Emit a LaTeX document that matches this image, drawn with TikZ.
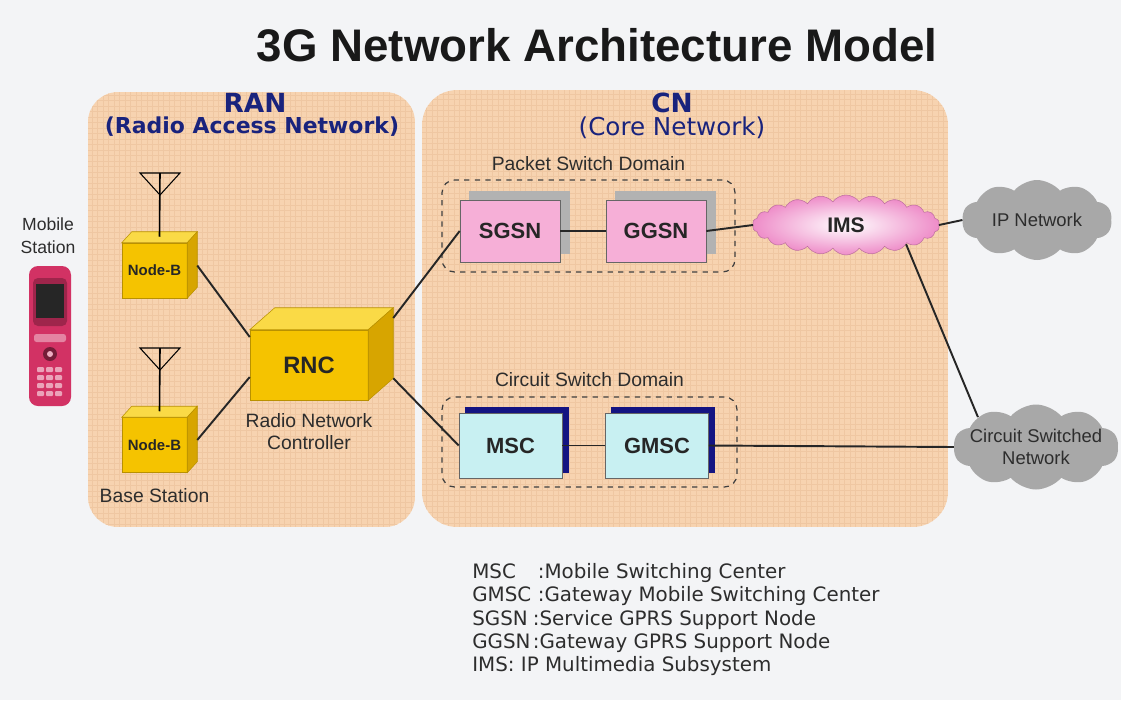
\documentclass[tikz,border=0pt]{standalone}
\usepackage{fontspec}
\setmainfont{Liberation Sans}
\newfontfamily\dejavu{DejaVu Sans}
\usetikzlibrary{positioning, shapes.symbols, shadows}

\definecolor{bgcol}{RGB}{243,244,246}
\definecolor{peach}{RGB}{247,211,176}
\definecolor{peachgrid}{RGB}{239,199,162}
\definecolor{navytxt}{RGB}{25,35,125}
\definecolor{ybfront}{RGB}{245,195,0}
\definecolor{ybtop}{RGB}{250,218,70}
\definecolor{ybside}{RGB}{215,165,0}
\definecolor{ybedge}{RGB}{185,145,0}
\definecolor{pinkbox}{RGB}{246,175,215}
\definecolor{cyanbox}{RGB}{200,240,242}
\definecolor{navyshadow}{RGB}{20,20,130}
\definecolor{cloudgray}{RGB}{168,168,168}
\definecolor{imspink}{RGB}{238,140,200}
\definecolor{phonered}{RGB}{210,50,100}
\definecolor{txtgray}{RGB}{45,45,45}

% top and side face of a box node: node name, depth x, depth y (pixels)
\newcommand{\boxfaces}[3]{%
  \fill[ybtop, draw=ybedge, line width=0.3pt] (#1.north west) -- ++(#2,-#3)
    -- ([shift={(#2,-#3)}]#1.north east) -- (#1.north east) -- cycle;
  \fill[ybside, draw=ybedge, line width=0.3pt] (#1.north east) -- ++(#2,-#3)
    -- ([shift={(#2,-#3)}]#1.south east) -- (#1.south east) -- cycle;
}
% antenna on top of a Node-B
\newcommand{\antenna}[2]{%
  \draw[line width=0.6pt] (#1) ++(-20,0) -- ++(40,0) -- ++(-20,22) -- cycle;
  \draw[line width=0.9pt] (#1) -- ([shift={(5,-6)}]#2.north);
}

\begin{document}
\begin{tikzpicture}[
    x=0.02cm, y=-0.02cm,
    node distance=0.2cm,
    panel/.style={rectangle, rounded corners=0.6cm, fill=peach,
      path picture={\draw[peachgrid, line width=0.15pt]
        (path picture bounding box.south west) grid[step=0.11cm]
        (path picture bounding box.north east);}},
    head/.style={text=navytxt, inner sep=1pt},
    nodeb/.style={rectangle, fill=ybfront, draw=ybedge, line width=0.3pt,
      minimum width=1.3cm, minimum height=1.1cm, inner sep=0pt,
      font=\bfseries\fontsize{8.5}{10}\selectfont, text=black!85},
    rncbox/.style={nodeb, minimum width=2.36cm, minimum height=1.4cm,
      font=\bfseries\fontsize{13.5}{16}\selectfont},
    psbox/.style={rectangle, fill=pinkbox, draw=black!60, line width=0.4pt,
      minimum width=2cm, minimum height=1.24cm,
      font=\bfseries\fontsize{12.5}{15}\selectfont, text=black!85,
      copy shadow={shadow xshift=0.18cm, shadow yshift=0.18cm, fill=gray!60, draw=gray!60}},
    csbox/.style={rectangle, fill=cyanbox, draw=black!60, line width=0.4pt,
      minimum width=2.06cm, minimum height=1.3cm,
      font=\bfseries\fontsize{12.5}{15}\selectfont, text=black!85,
      copy shadow={shadow xshift=0.12cm, shadow yshift=0.12cm, fill=navyshadow, draw=navyshadow}},
    domainbox/.style={rectangle, draw=black!75, dashed, line width=0.7pt, rounded corners=0.25cm},
    cloudnode/.style={cloud, cloud puffs=10, cloud puff arc=100, aspect=2.5, inner sep=0pt},
    link/.style={draw=black!85, line width=1.1pt},
    lbl/.style={text=txtgray, font=\fontsize{11}{12.5}\selectfont, align=center}
]
    \useasboundingbox (0,0) rectangle (1121,700);
    \fill[bgcol] (0,0) rectangle (1121,700);

    \node[font=\bfseries\fontsize{26}{30}\selectfont, text=black!90] (title) at (597,45)
        {3G Network Architecture Model};

    % the two panels
    \node[panel, minimum width=6.54cm, minimum height=8.7cm] (ran) at (251.5,309.5) {};
    \node[panel, rounded corners=0.7cm, minimum width=10.52cm, minimum height=8.74cm] (cn) at (685,308.5) {};

    \node[head, font=\dejavu\bfseries\fontsize{15}{18}\selectfont] (rantitle) at (255,103) {RAN};
    \node[head, font=\dejavu\bfseries\fontsize{12.5}{15}\selectfont] (ransub) at (252,127) {(Radio Access Network)};
    \node[head, font=\dejavu\bfseries\fontsize{15}{18}\selectfont] (cntitle) at (672,103) {CN};
    \node[head, font=\dejavu\fontsize{14}{17}\selectfont] (cnsub) at (672,128) {(Core Network)};

    % mobile station
    \node[lbl, font=\fontsize{10}{13}\selectfont] (mslabel) at (48,236) {Mobile\\Station};
    \fill[phonered, rounded corners=0.18cm] (29,266) rectangle (71,406);
    \fill[phonered!75!black, rounded corners=0.1cm] (33,278) rectangle (67,326);
    \fill[black!85] (36,284) rectangle (64,318);
    \fill[phonered!60!white, rounded corners=0.05cm] (34,334) rectangle (66,342);
    \fill[phonered!55!black] (50,354) circle (7);
    \fill[phonered!40!white] (50,354) circle (3);
    \foreach \r in {0,...,3}
      \foreach \c in {0,1,2}
        \fill[phonered!45!white, rounded corners=0.02cm] (37+\c*9,367+\r*8) rectangle ++(7,5);

    % base stations and RNC
    \node[nodeb] (nbtop) at (154.5,270.5) {Node-B};
    \node[nodeb] (nbbot) at (154.5,445) {Node-B};
    \boxfaces{nbtop}{10}{11}
    \boxfaces{nbbot}{10}{11}
    \coordinate (anttop) at (160,173);
    \coordinate (antbot) at (160,348);
    \antenna{anttop}{nbtop}
    \antenna{antbot}{nbbot}
    \node[lbl, below=0.2cm of nbbot] (bslabel) {Base Station};

    \node[rncbox] (rnc) at (309,365) {RNC};
    \boxfaces{rnc}{25}{22}
    \node[lbl, below=0.15cm of rnc] (rnclabel) {Radio Network\\Controller};

    % packet switch domain
    \node[domainbox, minimum width=5.86cm, minimum height=1.84cm] (psd) at (588.5,226) {};
    \node[lbl, above=0.05cm of psd] (psdlabel) {Packet Switch Domain};
    \node[psbox] (sgsn) at (510,231) {SGSN};
    \node[psbox] (ggsn) at (656,231) {GGSN};

    % circuit switch domain
    \node[domainbox, minimum width=5.9cm, minimum height=1.8cm] (csd) at (589.5,442) {};
    \node[lbl, above=0.08cm of csd] (csdlabel) {Circuit Switch Domain};
    \node[csbox] (msc) at (510.5,445.5) {MSC};
    \node[csbox] (gmsc) at (657,445.5) {GMSC};

    % clouds
    \node[cloudnode, cloud puffs=22, cloud puff arc=110, inner color=white, outer color=imspink,
          draw=imspink!80!black, line width=0.3pt, minimum width=3.74cm, minimum height=1.2cm,
          label={[font=\bfseries\fontsize{12}{14}\selectfont, text=black!85]center:IMS}] (ims) at (846,225) {};
    \node[cloudnode, fill=cloudgray, minimum width=3cm, minimum height=1.6cm,
          label={[lbl, font=\fontsize{10.5}{12.5}\selectfont]center:IP Network}] (ipnet) at (1037,220) {};
    \node[cloudnode, fill=cloudgray, minimum width=3.3cm, minimum height=1.7cm,
          label={[lbl, font=\fontsize{10.5}{12.5}\selectfont]center:{Circuit Switched\\Network}}] (csnet) at (1036,447) {};

    % links
    \draw[link] ([shift={(10,-5)}]nbtop.east) -- ([shift={(0,-28)}]rnc.west);
    \draw[link] ([shift={(10,-5)}]nbbot.east) -- ([shift={(0,12)}]rnc.west);
    \draw[link] ([shift={(25,-47)}]rnc.east) -- (sgsn.west);
    \draw[link] ([shift={(25,-22)}]rnc.south east) -- (msc.west);
    \draw[link] (sgsn) -- (ggsn);
    \draw[link] (ggsn.east) -- (ims.west);
    \draw[link] (ims.east) -- (ipnet.west);
    \draw[link] (msc) -- (gmsc);
    \draw[link] (gmsc.east) -- (csnet.west);
    \draw[link] (ims.south east) -- (csnet.north west);

    % abbreviations
    \node[anchor=north west, inner sep=0pt, align=left, text=txtgray,
          font=\dejavu\fontsize{11.3}{13.3}\selectfont] (legend) at (472,563)
      {\makebox[3.3em][l]{MSC}:Mobile Switching Center\\
       \makebox[3.3em][l]{GMSC}:Gateway Mobile Switching Center\\
       \makebox[3.05em][l]{SGSN}:Service GPRS Support Node\\
       \makebox[3.05em][l]{GGSN}:Gateway GPRS Support Node\\
       IMS: IP Multimedia Subsystem};
\end{tikzpicture}
\end{document}
